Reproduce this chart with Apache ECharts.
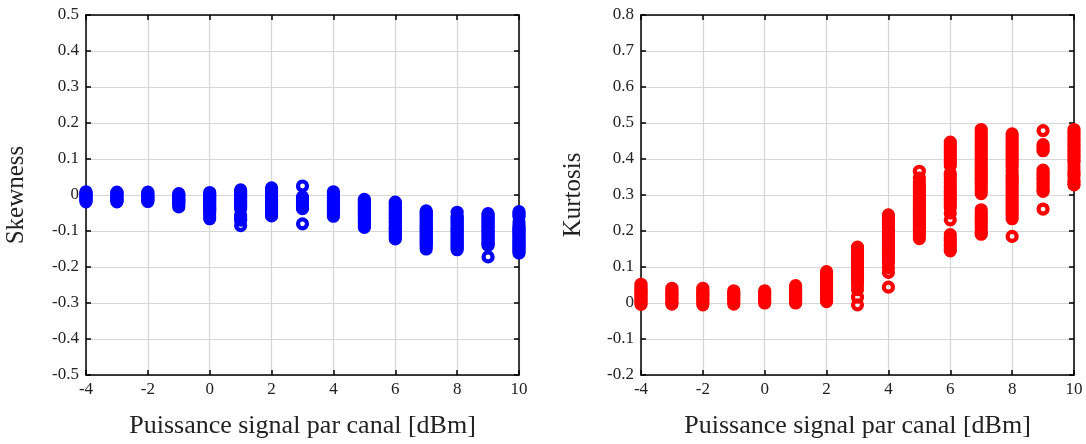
<!DOCTYPE html>
<html>
<head>
<meta charset="utf-8">
<script src="https://cdn.jsdelivr.net/npm/echarts@6/dist/echarts.min.js"></script>
<style>
html,body{margin:0;padding:0;background:#fff;}
#chart{width:1086px;height:444px;}
</style>
</head>
<body>
<div id="chart"></div>
<script>
// x categories (signal power per channel, dBm)
var powers = [-4, -3, -2, -1, 0, 1, 2, 3, 4, 5, 6, 7, 8, 9, 10];
var xTicks = [-4, -2, 0, 2, 4, 6, 8, 10];
var skewTicks = [-0.5, -0.4, -0.3, -0.2, -0.1, 0, 0.1, 0.2, 0.3, 0.4, 0.5];
var kurtTicks = [-0.2, -0.1, 0, 0.1, 0.2, 0.3, 0.4, 0.5, 0.6, 0.7, 0.8];

// Skewness values per power
var skewness = [
  [0.009, 0.005, 0.002, -0.001, -0.004, -0.007, -0.010, -0.013, -0.016, -0.019],
  [0.008, 0.005, 0.002, -0.002, -0.005, -0.008, -0.011, -0.014, -0.017, -0.019],
  [0.008, 0.004, 0.001, -0.002, -0.005, -0.009, -0.012, -0.015, -0.018],
  [0.004, 0.001, -0.003, -0.006, -0.010, -0.013, -0.017, -0.020, -0.024, -0.027, -0.033],
  [0.007, 0.003, -0.001, -0.005, -0.009, -0.013, -0.017, -0.021, -0.025, -0.029, -0.033, -0.037, -0.041, -0.045, -0.050, -0.058, -0.066],
  [0.014, 0.010, 0.006, 0.002, -0.002, -0.006, -0.010, -0.014, -0.018, -0.022, -0.026, -0.030, -0.034, -0.038, -0.055, -0.060, -0.066, -0.070, -0.085],
  [0.020, 0.016, 0.012, 0.008, 0.004, 0.000, -0.004, -0.008, -0.012, -0.016, -0.020, -0.024, -0.028, -0.032, -0.036, -0.040, -0.044, -0.048, -0.055, -0.058],
  [0.025, -0.005, -0.009, -0.013, -0.017, -0.021, -0.025, -0.029, -0.033, -0.038, -0.080],
  [0.009, 0.002, -0.002, -0.006, -0.010, -0.014, -0.018, -0.022, -0.026, -0.030, -0.034, -0.038, -0.042, -0.046, -0.050, -0.054, -0.059],
  [-0.012, -0.016, -0.020, -0.024, -0.028, -0.032, -0.036, -0.040, -0.044, -0.048, -0.052, -0.056, -0.060, -0.064, -0.068, -0.072, -0.076, -0.080, -0.085, -0.090],
  [-0.020, -0.024, -0.028, -0.033, -0.037, -0.041, -0.046, -0.050, -0.054, -0.059, -0.063, -0.067, -0.072, -0.076, -0.080, -0.085, -0.089, -0.093, -0.098, -0.102, -0.107, -0.112, -0.117, -0.122],
  [-0.044, -0.048, -0.053, -0.057, -0.062, -0.066, -0.071, -0.075, -0.080, -0.084, -0.089, -0.093, -0.098, -0.102, -0.107, -0.111, -0.116, -0.120, -0.125, -0.129, -0.134, -0.138, -0.143, -0.150],
  [-0.048, -0.058, -0.062, -0.067, -0.071, -0.076, -0.080, -0.085, -0.089, -0.094, -0.098, -0.103, -0.107, -0.112, -0.116, -0.121, -0.125, -0.130, -0.134, -0.139, -0.143, -0.148, -0.152],
  [-0.052, -0.056, -0.061, -0.065, -0.070, -0.074, -0.079, -0.083, -0.088, -0.092, -0.097, -0.101, -0.106, -0.110, -0.115, -0.119, -0.124, -0.128, -0.133, -0.137, -0.140, -0.172],
  [-0.046, -0.050, -0.055, -0.060, -0.076, -0.085, -0.089, -0.094, -0.098, -0.103, -0.107, -0.112, -0.116, -0.121, -0.125, -0.130, -0.134, -0.139, -0.143, -0.148, -0.152, -0.157, -0.161]
];

// Kurtosis values per power
var kurtosis = [
  [0.052, 0.047, 0.042, 0.037, 0.032, 0.027, 0.022, 0.017, 0.012, 0.007, 0.002, -0.004],
  [0.041, 0.036, 0.031, 0.026, 0.021, 0.016, 0.011, 0.006, 0.001, -0.003],
  [0.041, 0.036, 0.031, 0.026, 0.021, 0.016, 0.011, 0.006, 0.001, -0.005],
  [0.034, 0.029, 0.024, 0.019, 0.014, 0.009, 0.004, -0.003],
  [0.034, 0.029, 0.024, 0.019, 0.014, 0.009, 0.004, 0.000],
  [0.048, 0.043, 0.038, 0.033, 0.028, 0.023, 0.018, 0.013, 0.008, 0.003, 0.000],
  [0.087, 0.082, 0.077, 0.072, 0.067, 0.062, 0.057, 0.052, 0.047, 0.042, 0.037, 0.032, 0.027, 0.022, 0.017, 0.012, 0.007, 0.004],
  [0.155, 0.150, 0.145, 0.140, 0.135, 0.130, 0.125, 0.120, 0.115, 0.110, 0.105, 0.100, 0.095, 0.090, 0.085, 0.080, 0.075, 0.070, 0.065, 0.060, 0.050, 0.037, 0.016, -0.005],
  [0.245, 0.240, 0.234, 0.228, 0.222, 0.216, 0.210, 0.204, 0.198, 0.192, 0.186, 0.180, 0.174, 0.168, 0.162, 0.156, 0.150, 0.144, 0.138, 0.132, 0.126, 0.120, 0.112, 0.098, 0.085, 0.044],
  [0.366, 0.347, 0.335, 0.328, 0.321, 0.314, 0.307, 0.300, 0.293, 0.286, 0.279, 0.272, 0.265, 0.258, 0.251, 0.244, 0.237, 0.230, 0.223, 0.216, 0.209, 0.202, 0.195, 0.188, 0.179],
  [0.447, 0.440, 0.432, 0.425, 0.418, 0.410, 0.403, 0.395, 0.388, 0.381, 0.360, 0.352, 0.345, 0.335, 0.325, 0.318, 0.310, 0.302, 0.295, 0.288, 0.280, 0.272, 0.265, 0.250, 0.231, 0.190, 0.180, 0.172, 0.165, 0.158, 0.150, 0.145],
  [0.482, 0.474, 0.467, 0.460, 0.453, 0.446, 0.439, 0.432, 0.425, 0.418, 0.411, 0.404, 0.397, 0.390, 0.383, 0.376, 0.369, 0.362, 0.355, 0.348, 0.341, 0.334, 0.327, 0.320, 0.312, 0.304, 0.259, 0.251, 0.243, 0.235, 0.227, 0.219, 0.211, 0.203, 0.195, 0.191],
  [0.470, 0.463, 0.456, 0.449, 0.442, 0.435, 0.428, 0.421, 0.414, 0.407, 0.400, 0.393, 0.386, 0.379, 0.366, 0.355, 0.348, 0.341, 0.334, 0.327, 0.320, 0.313, 0.306, 0.299, 0.292, 0.285, 0.278, 0.271, 0.264, 0.257, 0.250, 0.243, 0.234, 0.185],
  [0.479, 0.440, 0.434, 0.428, 0.423, 0.369, 0.362, 0.355, 0.348, 0.341, 0.334, 0.327, 0.320, 0.314, 0.310, 0.261],
  [0.482, 0.475, 0.468, 0.461, 0.454, 0.447, 0.440, 0.433, 0.426, 0.419, 0.412, 0.405, 0.398, 0.391, 0.379, 0.366, 0.359, 0.352, 0.340, 0.333, 0.328]
];

function pairs(vals) {
  var out = [];
  for (var i = 0; i < powers.length; i++) {
    for (var j = 0; j < vals[i].length; j++) out.push([powers[i], vals[i][j]]);
  }
  return out;
}

var FONT = 'Liberation Serif';
var TXT = '#222';
function fmt(v) { var r = Math.round(v * 10) / 10; return (r === 0 ? 0 : r).toString(); }

function xAx(gi, top) {
  return {
    type: 'value', gridIndex: gi, position: top ? 'top' : 'bottom',
    min: xTicks[0], max: xTicks[xTicks.length - 1], interval: 2,
    name: top ? '' : 'Puissance signal par canal [dBm]',
    nameLocation: 'middle', nameGap: 38,
    nameTextStyle: { fontFamily: FONT, fontSize: 26, color: TXT },
    axisLine: { show: true, onZero: false, lineStyle: { color: '#000', width: 1.5 } },
    axisTick: { show: true, inside: true, length: 5, lineStyle: { color: '#000', width: 1.5 } },
    axisLabel: { show: !top, margin: 6, fontFamily: FONT, fontSize: 17, color: TXT },
    splitLine: { show: !top, lineStyle: { color: '#d6d6d6', width: 1.2 } }
  };
}
function yAx(gi, ticks, right, name, gap) {
  return {
    type: 'value', gridIndex: gi, position: right ? 'right' : 'left',
    min: ticks[0], max: ticks[ticks.length - 1], interval: 0.1,
    name: right ? '' : name, nameLocation: 'middle', nameGap: gap,
    nameTextStyle: { fontFamily: FONT, fontSize: 25, color: TXT },
    axisLine: { show: true, onZero: false, lineStyle: { color: '#000', width: 1.5 } },
    axisTick: { show: true, inside: true, length: 5, lineStyle: { color: '#000', width: 1.5 } },
    axisLabel: { show: !right, margin: 7, fontFamily: FONT, fontSize: 17, color: TXT, formatter: fmt },
    splitLine: { show: !right, lineStyle: { color: '#d6d6d6', width: 1.2 } }
  };
}

var chart = echarts.init(document.getElementById('chart'), null, { renderer: 'canvas' });
chart.setOption({
  animation: false,
  backgroundColor: '#fff',
  grid: [
    { left: 86, top: 15, width: 433, height: 362 },
    { left: 641, top: 15, width: 433, height: 362 }
  ],
  xAxis: [xAx(0, false), xAx(0, true), xAx(1, false), xAx(1, true)],
  yAxis: [
    yAx(0, skewTicks, false, 'Skewness', 57), yAx(0, skewTicks, true, '', 0),
    yAx(1, kurtTicks, false, 'Kurtosis', 55), yAx(1, kurtTicks, true, '', 0)
  ],
  series: [
    {
      type: 'scatter', xAxisIndex: 0, yAxisIndex: 0, data: pairs(skewness),
      symbol: 'circle', symbolSize: 9,
      itemStyle: { color: 'rgba(0,0,0,0)', borderColor: '#0000ff', borderWidth: 4.2, opacity: 1 }
    },
    {
      type: 'scatter', xAxisIndex: 2, yAxisIndex: 2, data: pairs(kurtosis),
      symbol: 'circle', symbolSize: 9,
      itemStyle: { color: 'rgba(0,0,0,0)', borderColor: '#ff0000', borderWidth: 4.2, opacity: 1 }
    }
  ]
});
</script>
</body>
</html>
